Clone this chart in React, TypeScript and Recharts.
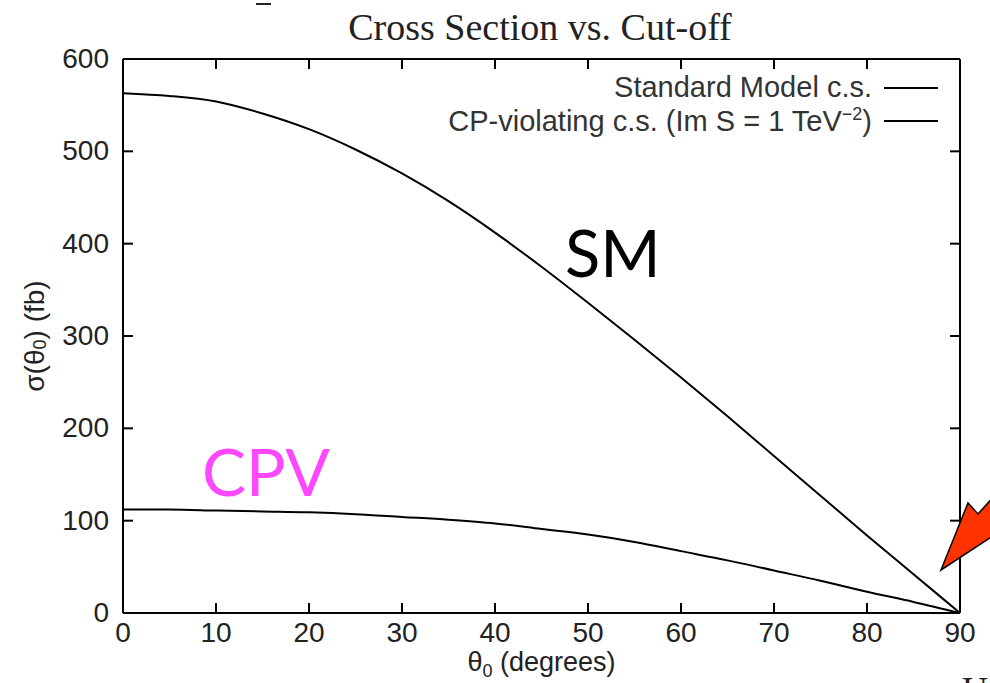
import React from "react"
import { LineChart, Line, XAxis, YAxis, Legend } from "recharts"

// cut-off angle theta_0 in degrees
const angles = [0, 5, 10, 15, 20, 25, 30, 35, 40, 45, 50, 55, 60, 65, 70, 75, 80, 85, 90]
// Standard Model cross section (fb)
const smValues = [563, 560, 554, 541, 524, 502, 476, 446, 412, 375, 336, 296, 255, 213, 170, 127, 84, 42, 0]
// CP-violating cross section (fb), Im S = 1 TeV^-2
const cpvValues = [112, 112, 111, 110, 109, 107, 104, 101, 97, 91, 85, 77, 67, 57, 46, 35, 23, 12, 0]

const xTicks = [0, 10, 20, 30, 40, 50, 60, 70, 80, 90]
const yTicks = [0, 100, 200, 300, 400, 500, 600]
const seriesOrder = ["sm", "cpv"]

const data = angles.map((a, i) => ({ angle: a, sm: smValues[i], cpv: cpvValues[i] }))

const SANS = "'Liberation Sans', Arial, Helvetica, sans-serif"
const TICK = 10

// gnuplot style: tick marks point into the plot box
function BottomTick(props: any) {
  const x = Number(props.x)
  const y = Number(props.y)
  return (
    <g>
      <rect x={x - 1} y={y - TICK} width={2} height={TICK} fill="#000" />
      <text x={x} y={y + 29} textAnchor="middle" fontFamily={SANS} fontSize={28} fill="#222">
        {props.payload.value}
      </text>
    </g>
  )
}

function TopTick(props: any) {
  const x = Number(props.x)
  const y = Number(props.y)
  return <rect x={x - 1} y={y} width={2} height={TICK} fill="#000" />
}

function LeftTick(props: any) {
  const x = Number(props.x)
  const y = Number(props.y)
  return (
    <g>
      <rect x={x} y={y - 1} width={TICK} height={2} fill="#000" />
      <text x={x - 14} y={y + 9} textAnchor="end" fontFamily={SANS} fontSize={28} fill="#222">
        {props.payload.value}
      </text>
    </g>
  )
}

function RightTick(props: any) {
  const x = Number(props.x)
  const y = Number(props.y)
  return <rect x={x - TICK} y={y - 1} width={TICK} height={2} fill="#000" />
}

function XLabel({ viewBox }: any) {
  const cx = viewBox.x + viewBox.width / 2
  return (
    <text x={cx} y={viewBox.y + 58} textAnchor="middle" fontFamily={SANS} fontSize={27} fill="#222">
      θ<tspan fontSize={18} dy={6}>0</tspan>
      <tspan dy={-6}> (degrees)</tspan>
    </text>
  )
}

function YLabel({ viewBox }: any) {
  const cx = 34
  const cy = viewBox.y + viewBox.height / 2
  return (
    <text
      x={cx}
      y={cy}
      transform={`rotate(-90 ${cx} ${cy})`}
      textAnchor="middle"
      dominantBaseline="central"
      fontFamily={SANS}
      fontSize={28}
      fill="#222"
    >
      σ(θ<tspan fontSize={18} dy={6}>0</tspan>
      <tspan dy={-6}>) (fb)</tspan>
    </text>
  )
}

function renderLegend({ payload }: any) {
  const items = [...payload].sort(
    (a: any, b: any) => seriesOrder.indexOf(a.dataKey) - seriesOrder.indexOf(b.dataKey)
  )
  return (
    <div style={{ width: 938, fontFamily: SANS, fontSize: 29, color: "#333" }}>
      {items.map((entry: any) => (
        <div
          key={entry.dataKey}
          style={{ display: "flex", justifyContent: "flex-end", alignItems: "center", height: 33 }}
        >
          <span style={{ whiteSpace: "nowrap" }}>
            {entry.dataKey === "cpv" ? (
              <>
                CP-violating c.s. (Im S = 1 TeV<sup style={{ fontSize: 18 }}>−2</sup>)
              </>
            ) : (
              "Standard Model c.s."
            )}
          </span>
          <span style={{ display: "inline-block", width: 54, height: 2, background: entry.color, marginLeft: 12 }} />
        </div>
      ))}
    </div>
  )
}

export default function App() {
  return (
    <div style={{ position: "absolute", left: 0, top: 0, width: 990, height: 683, background: "#fff" }}>
      <LineChart width={990} height={683} data={data} margin={{ top: 58, right: 29, bottom: 0, left: 0 }}>
        <XAxis
          dataKey="angle"
          type="number"
          domain={[0, 90]}
          ticks={xTicks}
          height={70}
          tickSize={0}
          tickMargin={0}
          tickLine={false}
          axisLine={{ stroke: "#000", strokeWidth: 2 }}
          tick={<BottomTick />}
          label={<XLabel />}
        />
        <XAxis
          xAxisId="top"
          orientation="top"
          dataKey="angle"
          type="number"
          domain={[0, 90]}
          ticks={xTicks}
          height={1}
          tickSize={0}
          tickMargin={0}
          tickLine={false}
          axisLine={{ stroke: "#000", strokeWidth: 2 }}
          tick={<TopTick />}
        />
        <YAxis
          type="number"
          domain={[0, 600]}
          ticks={yTicks}
          width={123}
          tickSize={0}
          tickMargin={0}
          tickLine={false}
          axisLine={{ stroke: "#000", strokeWidth: 2 }}
          tick={<LeftTick />}
          label={<YLabel />}
        />
        <YAxis
          yAxisId="right"
          orientation="right"
          dataKey="sm"
          type="number"
          domain={[0, 600]}
          ticks={yTicks}
          width={1}
          tickSize={0}
          tickMargin={0}
          tickLine={false}
          interval={0}
          axisLine={{ stroke: "#000", strokeWidth: 2 }}
          tick={<RightTick />}
        />
        <Legend
          content={renderLegend}
          layout="horizontal"
          verticalAlign="middle"
          align="center"
          wrapperStyle={{ position: "absolute", left: 0, top: 71, width: 938 }}
        />
        <Line dataKey="sm" name="sm" type="monotone" stroke="#000" strokeWidth={2} dot={false} isAnimationActive={false} />
        <Line dataKey="cpv" name="cpv" type="monotone" stroke="#000" strokeWidth={2} dot={false} isAnimationActive={false} />
      </LineChart>
      <svg
        width={990}
        height={683}
        style={{ position: "absolute", left: 0, top: 0, pointerEvents: "none", overflow: "hidden" }}
      >
        <line x1={256} x2={271} y1={4} y2={4} stroke="#222" strokeWidth={2} />
        <text x={540} y={40} textAnchor="middle" fontFamily="'Liberation Serif', 'Times New Roman', serif" fontSize={38} fill="#222">
          Cross Section vs. Cut-off
        </text>
        <text x={565} y={277} fontFamily="Lato, 'Open Sans', sans-serif" fontSize={65} fill="#000">
          SM
        </text>
        <text x={202} y={496} fontFamily="Lato, 'Open Sans', sans-serif" fontSize={66} fill="#FF47FF">
          CPV
        </text>
        <polygon points="941,570 968,503 978,514 996,494 996,534" fill="#FF3300" stroke="#000" strokeWidth={1.5} strokeLinejoin="miter" />
        <text x={962} y={702} fontFamily="'Liberation Serif', serif" fontSize={36} fill="#222">
          U
        </text>
      </svg>
    </div>
  )
}
